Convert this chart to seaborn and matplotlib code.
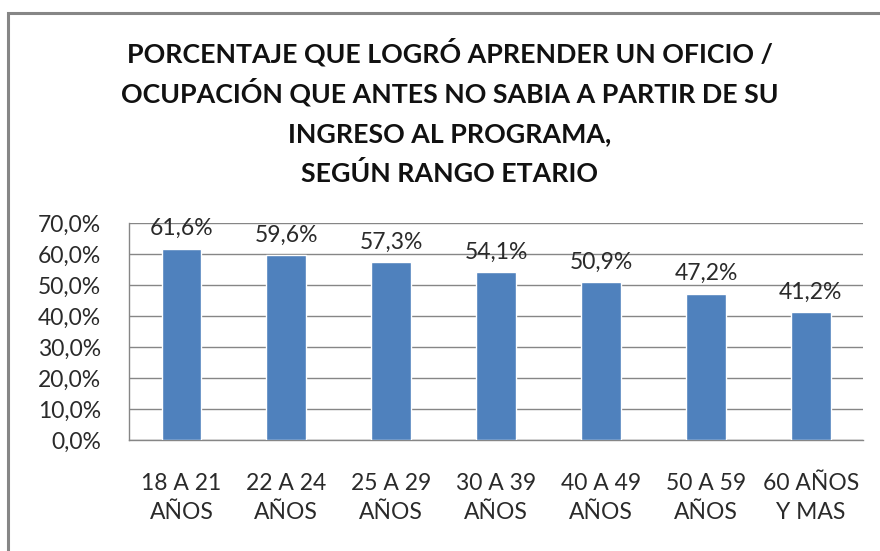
import numpy as np
import pandas as pd
import matplotlib.pyplot as plt
import seaborn as sns
from matplotlib.patches import Rectangle

# datos del grafico
rangos = ['18 A 21\nAÑOS', '22 A 24\nAÑOS', '25 A 29\nAÑOS', '30 A 39\nAÑOS',
          '40 A 49\nAÑOS', '50 A 59\nAÑOS', '60 AÑOS\nY MAS']
porcentajes = [61.6, 59.6, 57.3, 54.1, 50.9, 47.2, 41.2]
titulo = ['PORCENTAJE QUE LOGRÓ APRENDER UN OFICIO /',
          'OCUPACIÓN QUE ANTES NO SABIA A PARTIR DE SU',
          'INGRESO AL PROGRAMA,',
          'SEGÚN RANGO ETARIO']

df = pd.DataFrame({'rango': rangos, 'pct': porcentajes})

sns.set_style('white')
plt.rcParams['font.family'] = ['Lato', 'DejaVu Sans']

fig = plt.figure(figsize=(8.8, 5.51), dpi=100)
ax = fig.add_axes([0.1466, 0.2015, 0.8344, 0.3938])

sns.barplot(data=df, x='rango', y='pct', color='#4F81BD', saturation=1,
            width=0.38, ax=ax, zorder=3)

ax.set_ylim(0, 70)
ax.set_yticks(np.arange(0, 71, 10))
ax.set_yticklabels([f'{v:.1f}%'.replace('.', ',') for v in np.arange(0, 71, 10)],
                   fontsize=16.5, color='#2a2a2a')
ax.set_xticks(range(len(rangos)))
ax.set_xticklabels(rangos, fontsize=16.5, color='#2a2a2a', linespacing=1.45)
ax.tick_params(axis='x', pad=24)
ax.tick_params(axis='y', pad=20)
ax.tick_params(length=0)
ax.set_xlabel('')
ax.set_ylabel('')
ax.set_xlim(-0.5, len(rangos) - 0.5)

ax.grid(axis='y', color='#868686', linewidth=1, zorder=0)
for s in ['top', 'right']:
    ax.spines[s].set_visible(False)
for s in ['left', 'bottom']:
    ax.spines[s].set_color('#868686')
    ax.spines[s].set_linewidth(1)

for i, v in enumerate(porcentajes):
    ax.annotate(f'{v:.1f}%'.replace('.', ','), (i, v), xytext=(0, 7),
                textcoords='offset points', ha='center', va='bottom',
                fontsize=16.5, color='#2a2a2a', zorder=4)

# titulo, una linea por vez (lineas cada 40 px)
for k, linea in enumerate(titulo):
    fig.text(0.511, 1 - (62 + 40 * k) / 551, linea, ha='center', va='baseline',
             fontsize=19.3, fontweight='bold', color='#111111')

# borde del area del grafico
fig.patches.append(Rectangle((8 / 880, -0.1), 1.2, 1 - 13 / 551 + 0.1,
                             transform=fig.transFigure, fill=False,
                             edgecolor='#868686', linewidth=2.2))

fig.savefig('out.png', dpi=100)
